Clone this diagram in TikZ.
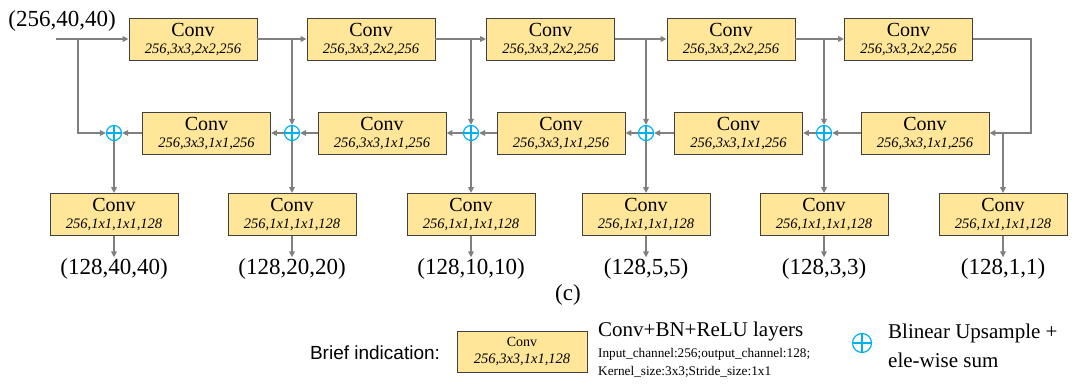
\documentclass[tikz,border=0pt]{standalone}
\usepackage{fontspec}
\setmainfont{Liberation Serif}
\setsansfont{Liberation Sans}
\usepackage{tikz}
\usetikzlibrary{arrows.meta}
\definecolor{boxFill}{RGB}{255,230,153}
\definecolor{lineGray}{RGB}{128,128,128}
\definecolor{sumBlue}{RGB}{0,176,240}
\newcommand{\convlbl}[1]{{\fontsize{20}{20}\selectfont Conv}\\[5pt]{\fontsize{14.5}{14.5}\selectfont\itshape #1}}

\begin{document}
\begin{tikzpicture}[x=1pt, y=-1pt, >={Triangle[length=6pt,width=5.5pt]},
  cv/.style={draw=black!75, line width=0.8pt, fill=boxFill, minimum width=128pt,
             minimum height=42pt, inner sep=0pt, align=center},
  sm/.style={circle, draw=sumBlue, line width=1.2pt, minimum size=15pt, inner sep=0pt,
             path picture={\draw[sumBlue, line width=1.2pt]
               (path picture bounding box.north) -- (path picture bounding box.south)
               (path picture bounding box.west) -- (path picture bounding box.east);}},
  ln/.style={draw=lineGray, line width=2.2pt, ->},
  shp/.style={font=\fontsize{23}{23}\selectfont, inner sep=1pt}]

  \useasboundingbox (0,0) rectangle (1075,385);

  % downsampling row
  \foreach \n/\x in {1/193,2/371,3/550.5,4/731,5/908.5}
    \node[cv] (T\n) at (\x,39) {\convlbl{256,3x3,2x2,256}};
  % upsampling row
  \foreach \n/\x in {1/206.5,2/382,3/561,4/738.5,5/925}
    \node[cv] (M\n) at (\x,133) {\convlbl{256,3x3,1x1,256}};
  \foreach \n/\x in {1/114,2/292,3/471,4/646,5/824}
    \node[sm] (S\n) at (\x,133) {};
  % heads
  \foreach \n/\x/\o in {1/114/{(128,40,40)},2/292/{(128,20,20)},3/471/{(128,10,10)},
                        4/646/{(128,5,5)},5/824/{(128,3,3)},6/1003/{(128,1,1)}} {
    \node[cv] (B\n) at (\x,214.5) {\convlbl{256,1x1,1x1,128}};
    \node[shp] (O\n) at (\x,269) {\o};
  }

  \node[shp] (inp) at (62,21) {(256,40,40)};
  \coordinate (in) at (56,39);
  \coordinate (br) at (78,39);
  \coordinate (rt) at (1031,133);

  \draw[ln] (in) -- (T1.west);
  \draw[ln] (br) |- (S1.west);
  \foreach \a/\b in {1/2,2/3,3/4,4/5} {
    \draw[ln] (T\a.east) -- (T\b.west);
    \draw[ln] (S\b |- T\a.east) -- (S\b.north);
  }
  \draw[ln] (T5.east) -| (rt) -- (M5.east);
  \draw[ln] (B6 |- rt) -- (B6.north);
  \foreach \n in {1,...,5} {
    \draw[ln] (M\n.west) -- (S\n.east);
    \draw[ln] (S\n.south) -- (B\n.north);
  }
  \foreach \a/\b in {2/1,3/2,4/3,5/4}
    \draw[ln] (S\a.west) -- (M\b.east);
  \foreach \n in {1,...,6}
    \draw[ln] (B\n.south) -- (O\n.north);

  \node[shp] (cap) at (568,295) {(c)};

  % legend
  \node[font=\sffamily\fontsize{19}{19}\selectfont] (brief) at (375,353) {Brief indication:};
  \node[cv, minimum width=130pt, minimum height=41pt] (leg) at (522,351.5)
    {{\fontsize{14}{14}\selectfont Conv}\\[5pt]{\fontsize{14.5}{14.5}\selectfont\itshape 256,3x3,1x1,128}};
  \node[anchor=west, inner sep=0pt, font=\fontsize{21}{21}\selectfont] (lyr) at (598,331) {Conv+BN+ReLU layers};
  \node[anchor=west, inner sep=0pt, font=\fontsize{13.25}{14}\selectfont] (ich) at (598,354)
    {Input\_channel:256;output\_channel:128;};
  \node[anchor=west, inner sep=0pt, font=\fontsize{13.25}{14}\selectfont] (ksz) at (598,372)
    {Kernel\_size:3x3;Stride\_size:1x1};
  \node[sm, minimum size=19pt] (legsum) at (862,343) {};
  \node[anchor=west, inner sep=0pt, font=\fontsize{21}{21}\selectfont] (ups) at (888,333) {Blinear Upsample +};
  \node[anchor=west, inner sep=0pt, font=\fontsize{21}{21}\selectfont] (ews) at (888,360) {ele-wise sum};

\end{tikzpicture}
\end{document}
